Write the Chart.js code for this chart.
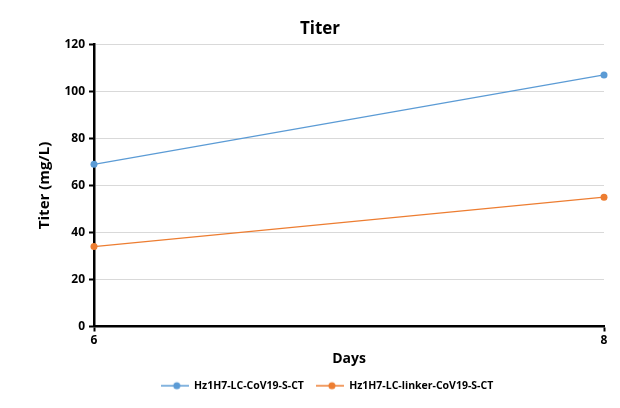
<!DOCTYPE html>
<html>
<head>
<meta charset="utf-8">
<script src="https://cdn.jsdelivr.net/npm/chart.js@4"></script>
<style>
html,body{margin:0;padding:0;background:#fff;}
#wrap{width:620px;height:408px;position:relative;}
</style>
</head>
<body>
<div id="wrap"><canvas id="c" width="620" height="408"></canvas></div>
<script>
const days = [6, 8];
const seriesNames = ['Hz1H7-LC-CoV19-S-CT', 'Hz1H7-LC-linker-CoV19-S-CT'];
const seriesA = [69, 107];
const seriesB = [34, 55];
const yTicks = [0, 20, 40, 60, 80, 100, 120];

const colors = ['#5B9BD5', '#ED7D31'];
const FONT = '"Open Sans", "Noto Sans", sans-serif';

function legendIcon(color) {
  const cv = document.createElement('canvas');
  cv.width = 28; cv.height = 10;
  const g = cv.getContext('2d');
  g.strokeStyle = color; g.lineWidth = 1.5;
  g.beginPath(); g.moveTo(0, 5); g.lineTo(28, 5); g.stroke();
  g.fillStyle = color;
  g.beginPath(); g.arc(16, 5, 3.5, 0, Math.PI * 2); g.fill();
  return cv;
}

const toPts = (vals) => days.map((d, i) => ({x: d, y: vals[i]}));

const shiftLegend = {
  id: 'shiftLegend',
  afterLayout(chart) {
    const lg = chart.legend;
    if (lg) { lg.left += 7; lg.right += 7; lg.top += 1; lg.bottom += 1; }
  }
};

new Chart(document.getElementById('c'), {
  type: 'line',
  data: {
    datasets: [
      {label: seriesNames[0], data: toPts(seriesA), borderColor: colors[0], backgroundColor: colors[0],
       borderWidth: 1.3, pointRadius: 3.5, pointStyle: 'circle', pointBorderWidth: 0, pointHoverRadius: 3.5, clip: false},
      {label: seriesNames[1], data: toPts(seriesB), borderColor: colors[1], backgroundColor: colors[1],
       borderWidth: 1.3, pointRadius: 3.5, pointStyle: 'circle', pointBorderWidth: 0, pointHoverRadius: 3.5, clip: false}
    ]
  },
  plugins: [shiftLegend],
  options: {
    responsive: false,
    animation: false,
    devicePixelRatio: 1,
    layout: {padding: {left: 36, right: 16, top: 0, bottom: 8}},
    plugins: {
      title: {display: true, text: 'Titer', color: '#000',
              font: {family: FONT, size: 17, weight: 'bold'}, padding: {top: 19, bottom: 5}},
      legend: {
        position: 'bottom',
        labels: {
          usePointStyle: true,
          pointStyleWidth: 28,
          color: '#000',
          font: {family: FONT, size: 10.5, weight: 'bold'},
          padding: 12,
          generateLabels: (chart) => chart.data.datasets.map((ds, i) => ({
            text: ds.label, pointStyle: legendIcon(colors[i]), fillStyle: colors[i],
            strokeStyle: colors[i], lineWidth: 0, datasetIndex: i, hidden: false, fontColor: '#000'
          }))
        }
      },
      tooltip: {enabled: false}
    },
    scales: {
      x: {
        type: 'linear', min: 6, max: 8,
        afterBuildTicks: (s) => { s.ticks = days.map(v => ({value: v})); },
        ticks: {color: '#000', font: {family: FONT, size: 12, weight: 'bold'}, padding: 2},
        grid: {drawOnChartArea: false, drawTicks: true, tickLength: 5, tickColor: '#000', tickWidth: 2},
        border: {display: true, color: '#000', width: 2.5},
        title: {display: true, text: 'Days', color: '#000', font: {family: FONT, size: 14, weight: 'bold'}, padding: {top: 2, bottom: 0}},
        afterFit: (s) => { s.height = 41; }
      },
      y: {
        min: 0, max: 120,
        afterBuildTicks: (s) => { s.ticks = yTicks.map(v => ({value: v})); },
        ticks: {color: '#000', font: {family: FONT, size: 12, weight: 'bold'}, padding: 4},
        grid: {color: '#d9d9d9', lineWidth: 1, drawTicks: true, tickLength: 5, tickColor: '#000', tickWidth: 2},
        border: {display: true, color: '#000', width: 2.5},
        title: {display: true, text: 'Titer (mg/L)', color: '#000', font: {family: FONT, size: 15, weight: 'bold'}, padding: {top: 0, bottom: 4}},
        afterFit: (s) => { s.width = 58; }
      }
    }
  }
});
</script>
</body>
</html>
